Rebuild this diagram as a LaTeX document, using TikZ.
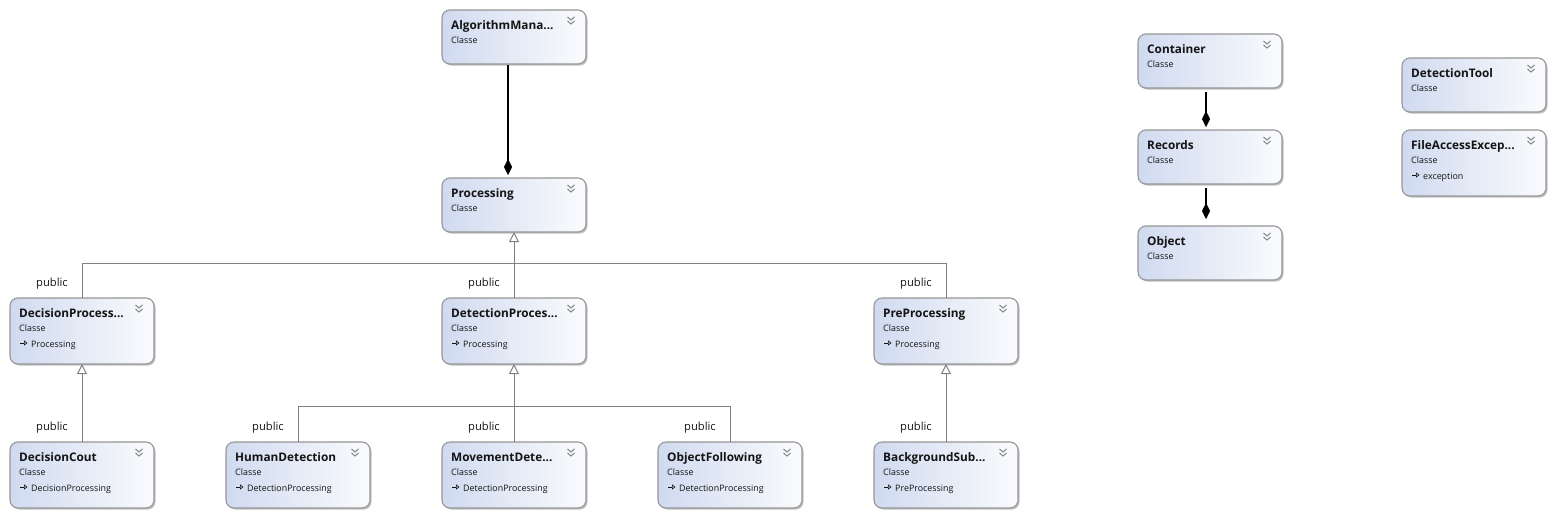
\documentclass[tikz,border=0pt]{standalone}
\usepackage{fontspec}
\setmainfont{Open Sans}
\usetikzlibrary{arrows.meta,shadows}
\definecolor{boxl}{RGB}{208,218,240}
\definecolor{boxr}{RGB}{250,251,253}
\definecolor{boxborder}{RGB}{150,150,150}
\definecolor{conn}{RGB}{128,128,128}
\definecolor{chevc}{RGB}{135,135,135}
\definecolor{txt}{RGB}{20,20,20}
\tikzset{
  clsbox/.style={draw=boxborder, line width=1.1pt, rounded corners=8pt,
    left color=boxl, right color=boxr, minimum width=144pt,
    anchor=north west, inner sep=0pt, outer sep=0pt,
    drop shadow={shadow xshift=1.6pt, shadow yshift=-1.6pt, fill=black!35, opacity=0.7}},
  ttl/.style={anchor=base west, inner sep=0pt, text=txt,
    font=\fontsize{11.8}{13}\selectfont\bfseries},
  sub/.style={anchor=base west, inner sep=0pt, text=txt,
    font=\fontsize{8.9}{10}\selectfont},
  pub/.style={anchor=base, inner sep=0pt, text=txt,
    font=\fontsize{11.2}{13}\selectfont},
  chev/.style={draw=chevc, line width=1pt},
  parr/.style={draw=txt, line width=0.6pt, -{Triangle[open,length=3.5pt,width=5pt]}},
  gen/.style={draw=conn, line width=1pt, -{Triangle[open,length=10pt,width=10pt]}},
  link/.style={draw=conn, line width=1pt},
  comp/.style={draw=black, line width=2pt, -{Diamond[length=16pt,width=8pt,line width=0.4pt]},
    shorten <=1pt, shorten >=3pt},
}
\newcommand\cls[6]{%
  \node[clsbox, minimum height=#4pt] (#1) at (#2,#3) {};
  \node[ttl] (#1-t) at ([xshift=9pt,yshift=-19pt]#1.north west) {#5};
  \node[sub] (#1-c) at ([xshift=9pt,yshift=-33pt]#1.north west) {Classe};
  \draw[chev] ([xshift=-18.5pt,yshift=-7pt]#1.north east) -- ++(3.5pt,-3pt) -- ++(3.5pt,3pt);
  \draw[chev] ([xshift=-18.5pt,yshift=-11pt]#1.north east) -- ++(3.5pt,-3pt) -- ++(3.5pt,3pt);
  \def\mypar{#6}%
  \ifx\mypar\empty\else
    \draw[parr] ([xshift=10pt,yshift=-45pt]#1.north west) -- ++(7.5pt,0pt);
    \node[sub] (#1-p) at ([xshift=21pt,yshift=-49pt]#1.north west) {#6};
  \fi
}
\newcommand\pubat[2]{\node[pub] (#1) at ([xshift=-30pt,yshift=12pt]#2.north) {public};}
\begin{document}
\begin{tikzpicture}[x=1pt,y=-1pt]
\useasboundingbox (0,0) rectangle (1555,517);
% classes
\cls{alg}{442}{10}{54}{AlgorithmMana...}{}
\cls{proc}{442}{178}{54}{Processing}{}
\cls{dec}{10}{298}{66}{DecisionProcess...}{Processing}
\cls{det}{442}{298}{66}{DetectionProces...}{Processing}
\cls{pre}{874}{298}{66}{PreProcessing}{Processing}
\cls{dcout}{10}{442}{66}{DecisionCout}{DecisionProcessing}
\cls{hum}{226}{442}{66}{HumanDetection}{DetectionProcessing}
\cls{mov}{442}{442}{66}{MovementDete...}{DetectionProcessing}
\cls{objf}{658}{442}{66}{ObjectFollowing}{DetectionProcessing}
\cls{bgs}{874}{442}{66}{BackgroundSub...}{PreProcessing}
\cls{cont}{1138}{34}{54}{Container}{}
\cls{rec}{1138}{130}{54}{Records}{}
\cls{obj}{1138}{226}{54}{Object}{}
\cls{dtool}{1402}{58}{54}{DetectionTool}{}
\cls{fae}{1402}{130}{66}{FileAccessExcep...}{exception}
% composition
\draw[comp] ([xshift=-6pt]alg.south) -- ([xshift=-6pt]proc.north);
\draw[comp, shorten <=4pt] ([xshift=-4pt]cont.south) -- ([xshift=-4pt]rec.north);
\draw[comp, shorten <=4pt, shorten >=7pt] ([xshift=-4pt]rec.south) -- ([xshift=-4pt]obj.north);
% inheritance
\coordinate (busA) at (514,263);
\coordinate (busB) at (514,406);
\draw[link] (dec.north) |- (busA);
\draw[link] (pre.north) |- (busA);
\draw[gen] (det.north) -- (proc.south);
\draw[link] (hum.north) |- (busB);
\draw[link] (objf.north) |- (busB);
\draw[gen] (mov.north) -- (det.south);
\draw[gen] (dcout.north) -- (dec.south);
\draw[gen] (bgs.north) -- (pre.south);
% labels
\pubat{pdec}{dec}
\pubat{pdet}{det}
\pubat{ppre}{pre}
\pubat{pdcout}{dcout}
\pubat{phum}{hum}
\pubat{pmov}{mov}
\pubat{pobjf}{objf}
\pubat{pbgs}{bgs}
\end{tikzpicture}
\end{document}
